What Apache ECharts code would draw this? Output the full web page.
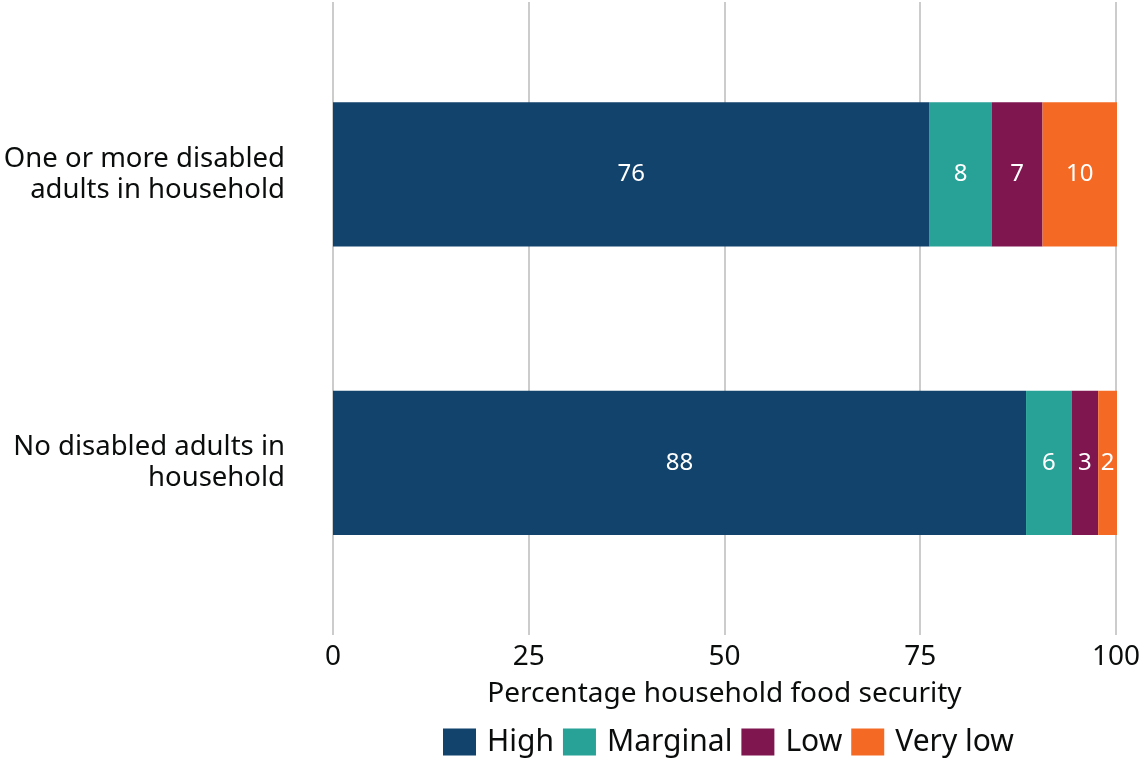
<!DOCTYPE html>
<html>
<head>
<meta charset="utf-8">
<script src="https://cdn.jsdelivr.net/npm/echarts@6/dist/echarts.min.js"></script>
<style>html,body{margin:0;padding:0;background:#fff;}#c{width:1143px;height:762px;}</style>
</head>
<body>
<div id="c"></div>
<script>
const categories = ['One or more disabled\nadults in household', 'No disabled adults in\nhousehold'];
const seriesNames = ['High', 'Marginal', 'Low', 'Very low'];
const high = [76.1, 88.4];
const marginal = [7.9, 5.8];
const low = [6.5, 3.4];
const veryLow = [9.5, 2.4];
const xTicks = [0, 25, 50, 75, 100];

const colors = ['#12436D', '#28A197', '#801650', '#F46A25'];
const font = 'Noto Sans';
const values = [high, marginal, low, veryLow];

const chart = echarts.init(document.getElementById('c'));
chart.setOption({
  animation: false,
  textStyle: { fontFamily: font },
  grid: [
    { left: 333, right: 26, top: 2, bottom: 127 },
    { left: 333, right: 26, top: 30, bottom: 155 }
  ],
  legend: {
    data: seriesNames,
    bottom: 0,
    left: 438,
    itemWidth: 33,
    itemHeight: 27,
    itemGap: 9,
    icon: 'rect',
    textStyle: { fontFamily: font, fontSize: 30, color: '#0b0c0c', padding: [0, 0, 0, 6] }
  },
  xAxis: [
    {
      gridIndex: 0, type: 'value', min: xTicks[0], max: xTicks[xTicks.length - 1], interval: 25,
      axisLine: { show: false }, axisTick: { show: false },
      splitLine: { show: true, lineStyle: { color: '#cccccc', width: 2 } },
      axisLabel: { fontSize: 28, color: '#0b0c0c', margin: 8, fontFamily: font },
      name: 'Percentage household food security', nameLocation: 'middle', nameGap: 45,
      nameTextStyle: { fontSize: 28, color: '#0b0c0c', fontFamily: font }
    },
    {
      gridIndex: 1, type: 'value', min: 0, max: 100, show: false
    }
  ],
  yAxis: [
    { gridIndex: 0, type: 'category', data: categories, show: false },
    {
      gridIndex: 1, type: 'category', data: categories, inverse: true,
      axisLine: { show: false }, axisTick: { show: false },
      axisLabel: { fontSize: 27.5, color: '#0b0c0c', margin: 48, lineHeight: 31, align: 'right', fontFamily: font, padding: [10, 0, 0, 0] }
    }
  ],
  series: seriesNames.map((n, i) => ({
    name: n,
    type: 'bar',
    stack: 'total',
    xAxisIndex: 1,
    yAxisIndex: 1,
    barWidth: '50%',
    itemStyle: { color: colors[i] },
    label: {
      show: true, position: 'inside', color: '#ffffff', fontSize: 24, fontFamily: font,
      formatter: p => Math.round(p.value)
    },
    data: values[i]
  }))
});
</script>
</body>
</html>
